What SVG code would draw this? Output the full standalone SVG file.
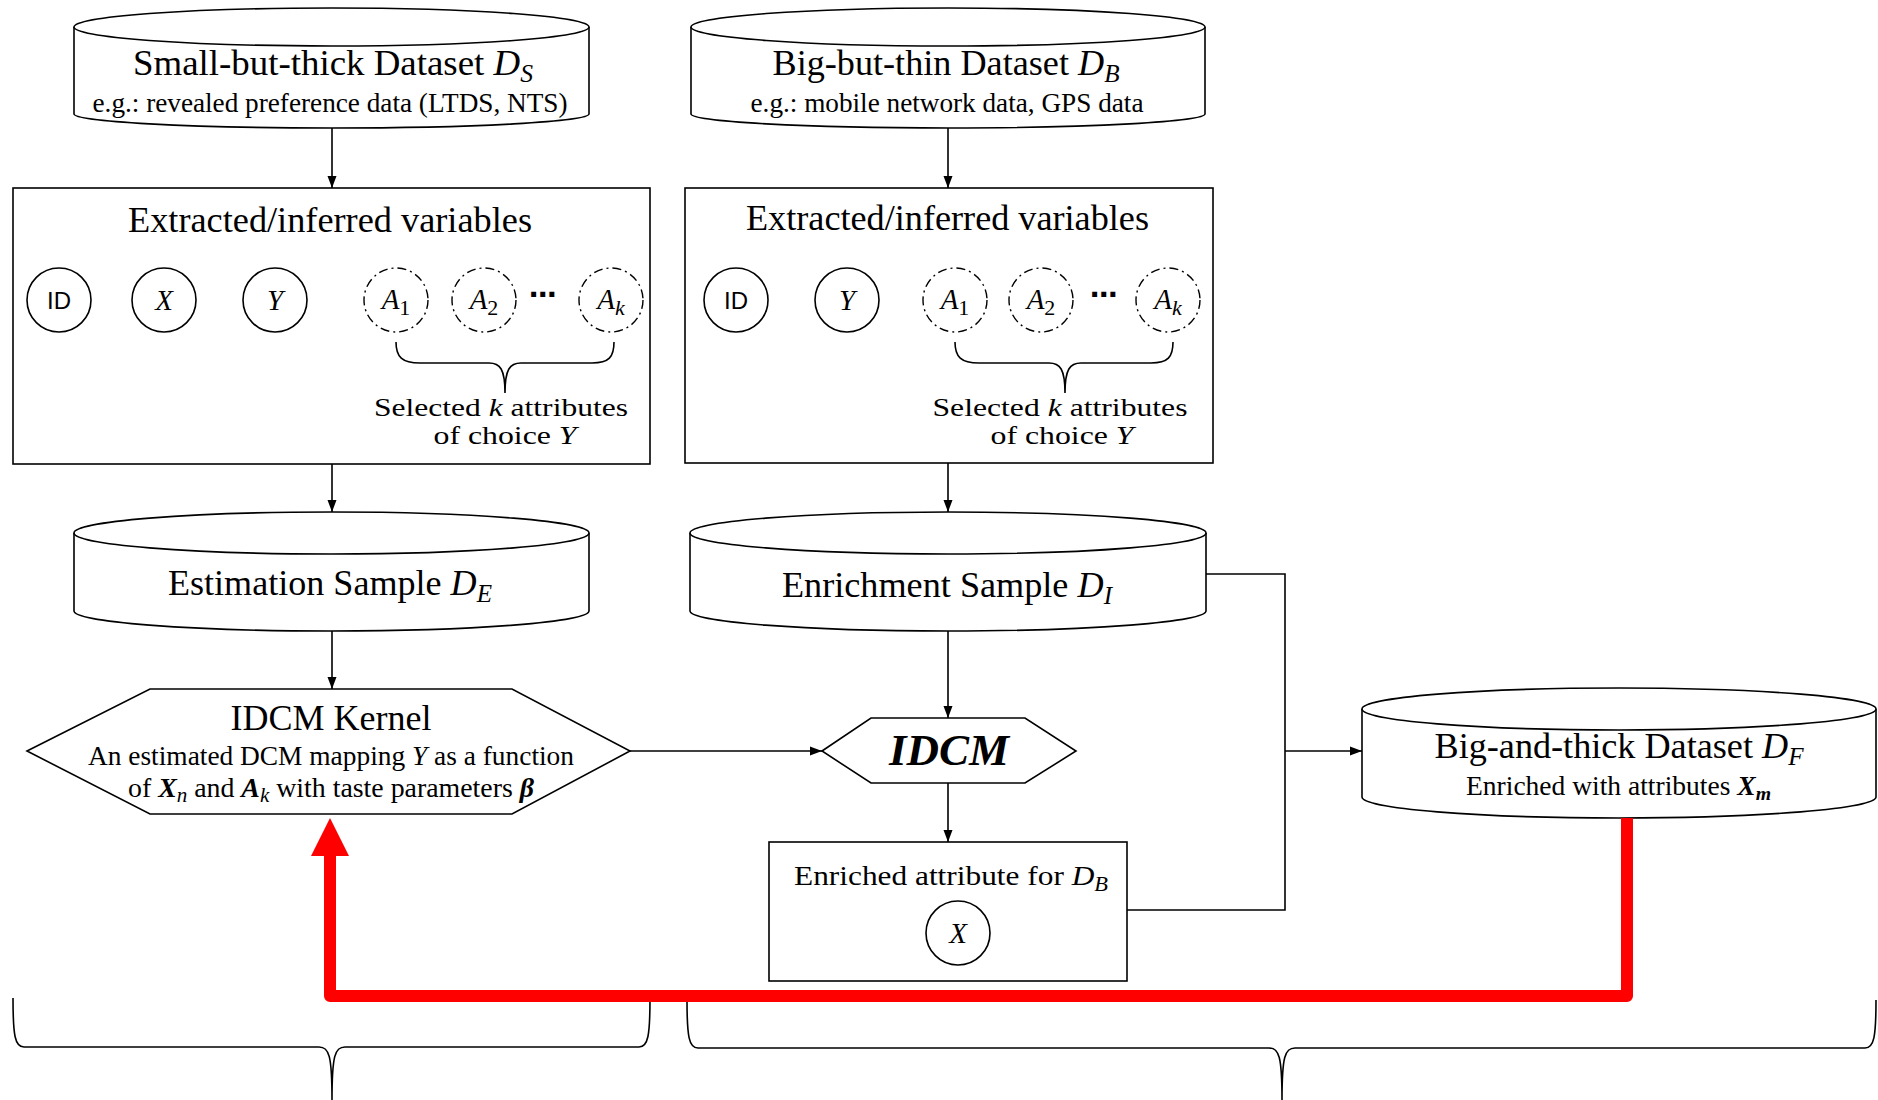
<svg xmlns="http://www.w3.org/2000/svg" width="1878" height="1100" viewBox="0 0 1878 1100">
  <defs>
    <style>
      .shape { fill: #fff; stroke: #000; stroke-width: 1.6; }
      .ln { fill: none; stroke: #000; stroke-width: 1.6; }
      .dash { fill: #fff; stroke: #000; stroke-width: 1.4; stroke-dasharray: 9 4 2 4; }
      .t { font-family: "Liberation Serif", "Times New Roman", serif; fill: #000; text-anchor: middle; }
      .h { font-size: 36px; }
      .m { font-size: 26px; }
      .s { font-size: 26.5px; }
      .sans { font-family: "Liberation Sans", Arial, sans-serif; font-size: 24px; fill: #000; text-anchor: middle; }
      .dots { font-family: "DejaVu Sans", sans-serif; font-size: 28px; font-weight: bold; fill: #000; text-anchor: middle; }
      .it { font-style: italic; }
      .bi { font-style: italic; font-weight: bold; }
      .red { fill: none; stroke: #ff0000; stroke-width: 12; stroke-linejoin: round; }
    </style>
    <marker id="arrow" markerUnits="userSpaceOnUse" markerWidth="12" markerHeight="10" viewBox="0 0 12 9" refX="12" refY="4.5" orient="auto">
      <path d="M0,0 L12,4.5 L0,9 Z" fill="#000"/>
    </marker>
    <marker id="redhead" markerUnits="userSpaceOnUse" markerWidth="38" markerHeight="38" viewBox="0 0 37 37" refX="0" refY="18.5" orient="auto">
      <path d="M0,0 L37,18.5 L0,37 Z" fill="#ff0000"/>
    </marker>
  </defs>

  <!-- Small-but-thick dataset -->
  <g id="dataset-small">
    <path class="shape" d="M74,27 V114 A257.5,14 0 0 0 589,114 V27"/>
    <ellipse class="shape" cx="331.5" cy="27" rx="257.5" ry="19"/>
    <text class="t h" x="333" y="75" textLength="400" lengthAdjust="spacingAndGlyphs">Small-but-thick Dataset <tspan class="it">D</tspan><tspan class="it" font-size="25" dy="7">S</tspan></text>
    <text class="t s" x="330" y="112" textLength="475" lengthAdjust="spacingAndGlyphs">e.g.: revealed preference data (LTDS, NTS)</text>
  </g>

  <!-- Big-but-thin dataset -->
  <g id="dataset-big">
    <path class="shape" d="M691,27 V114 A257,14 0 0 0 1205,114 V27"/>
    <ellipse class="shape" cx="948" cy="27" rx="257" ry="19"/>
    <text class="t h" x="946" y="75" textLength="347" lengthAdjust="spacingAndGlyphs">Big-but-thin Dataset <tspan class="it">D</tspan><tspan class="it" font-size="25" dy="7">B</tspan></text>
    <text class="t s" x="947" y="112" textLength="393" lengthAdjust="spacingAndGlyphs">e.g.: mobile network data, GPS data</text>
  </g>

  <!-- Variables extracted from the small dataset -->
  <g id="vars-small">
    <rect class="shape" x="13" y="188" width="637" height="276"/>
    <text class="t h" x="330" y="232" textLength="404" lengthAdjust="spacingAndGlyphs">Extracted/inferred variables</text>
    <circle class="shape" cx="59" cy="300" r="32"/>
    <text class="sans" x="59" y="309">ID</text>
    <circle class="shape" cx="164" cy="300" r="32"/>
    <text class="t it" font-size="29" x="164" y="310">X</text>
    <circle class="shape" cx="275" cy="300" r="32"/>
    <text class="t it" font-size="29" x="275" y="310">Y</text>
    <circle class="dash" cx="396" cy="300" r="32"/>
    <text class="t" font-size="29" x="396" y="309"><tspan class="it">A</tspan><tspan font-size="22" dy="6">1</tspan></text>
    <circle class="dash" cx="484" cy="300" r="32"/>
    <text class="t" font-size="29" x="484" y="309"><tspan class="it">A</tspan><tspan font-size="22" dy="6">2</tspan></text>
    <text class="dots" x="543" y="304">⋯</text>
    <circle class="dash" cx="611" cy="300" r="32"/>
    <text class="t" font-size="29" x="611" y="309"><tspan class="it">A</tspan><tspan class="it" font-size="22" dy="6">k</tspan></text>
    <path class="ln" d="M396,342 C396,357 402,363 420,363 L489,363 C500,363 505,369 505,393 C505,369 510,363 521,363 L592,363 C609,363 614,357 614,342"/>
    <text class="t m" x="501" y="416" textLength="254" lengthAdjust="spacingAndGlyphs">Selected <tspan class="it">k</tspan> attributes</text>
    <text class="t m" x="505" y="444" textLength="143" lengthAdjust="spacingAndGlyphs">of choice <tspan class="it">Y</tspan></text>
  </g>

  <!-- Variables extracted from the big dataset -->
  <g id="vars-big">
    <rect class="shape" x="685" y="188" width="528" height="275"/>
    <text class="t h" x="947.5" y="230" textLength="403" lengthAdjust="spacingAndGlyphs">Extracted/inferred variables</text>
    <circle class="shape" cx="736" cy="300" r="32"/>
    <text class="sans" x="736" y="309">ID</text>
    <circle class="shape" cx="847" cy="300" r="32"/>
    <text class="t it" font-size="29" x="847" y="310">Y</text>
    <circle class="dash" cx="955" cy="300" r="32"/>
    <text class="t" font-size="29" x="955" y="309"><tspan class="it">A</tspan><tspan font-size="22" dy="6">1</tspan></text>
    <circle class="dash" cx="1041" cy="300" r="32"/>
    <text class="t" font-size="29" x="1041" y="309"><tspan class="it">A</tspan><tspan font-size="22" dy="6">2</tspan></text>
    <text class="dots" x="1104" y="304">⋯</text>
    <circle class="dash" cx="1168" cy="300" r="32"/>
    <text class="t" font-size="29" x="1168" y="309"><tspan class="it">A</tspan><tspan class="it" font-size="22" dy="6">k</tspan></text>
    <path class="ln" d="M955,342 C955,357 961,363 979,363 L1049,363 C1060,363 1065,369 1065,393 C1065,369 1070,363 1081,363 L1151,363 C1168,363 1173,357 1173,342"/>
    <text class="t m" x="1060" y="416" textLength="255" lengthAdjust="spacingAndGlyphs">Selected <tspan class="it">k</tspan> attributes</text>
    <text class="t m" x="1062" y="444" textLength="143" lengthAdjust="spacingAndGlyphs">of choice <tspan class="it">Y</tspan></text>
  </g>

  <!-- Estimation sample -->
  <g id="sample-estimation">
    <path class="shape" d="M74,533 V611 A257.5,20 0 0 0 589,611 V533"/>
    <ellipse class="shape" cx="331.5" cy="533" rx="257.5" ry="21"/>
    <text class="t h" x="330" y="595" textLength="324" lengthAdjust="spacingAndGlyphs">Estimation Sample <tspan class="it">D</tspan><tspan class="it" font-size="25" dy="7">E</tspan></text>
  </g>

  <!-- Enrichment sample -->
  <g id="sample-enrichment">
    <path class="shape" d="M690,533 V611 A258,20 0 0 0 1206,611 V533"/>
    <ellipse class="shape" cx="948" cy="533" rx="258" ry="21"/>
    <text class="t h" x="947" y="597" textLength="330" lengthAdjust="spacingAndGlyphs">Enrichment Sample <tspan class="it">D</tspan><tspan class="it" font-size="25" dy="7">I</tspan></text>
  </g>

  <!-- IDCM kernel -->
  <g id="idcm-kernel">
    <polygon class="shape" points="27,751 150,689 512,689 630,751 512,814 150,814"/>
    <text class="t h" x="331" y="730" textLength="201" lengthAdjust="spacingAndGlyphs">IDCM Kernel</text>
    <text class="t s" x="331" y="765" textLength="486" lengthAdjust="spacingAndGlyphs">An estimated DCM mapping <tspan class="it">Y</tspan> as a function</text>
    <text class="t s" x="331" y="797" textLength="406" lengthAdjust="spacingAndGlyphs">of <tspan class="bi">X</tspan><tspan class="it" font-size="20" dy="5">n</tspan><tspan dy="-5"> and </tspan><tspan class="bi">A</tspan><tspan class="it" font-size="20" dy="5">k</tspan><tspan dy="-5"> with taste parameters </tspan><tspan class="bi">β</tspan></text>
  </g>

  <!-- IDCM -->
  <g id="idcm">
    <polygon class="shape" points="822,751 871,718 1025,718 1076,751 1025,783 871,783"/>
    <text class="t bi" font-size="45" x="949" y="765">IDCM</text>
  </g>

  <!-- Enriched attribute -->
  <g id="enriched-attribute">
    <rect class="shape" x="769" y="842" width="358" height="139"/>
    <text class="t" font-size="28" x="951" y="885" textLength="314" lengthAdjust="spacingAndGlyphs">Enriched attribute for <tspan class="it">D</tspan><tspan class="it" font-size="20" dy="6">B</tspan></text>
    <circle class="shape" cx="958" cy="933" r="32"/>
    <text class="t it" font-size="29" x="958" y="943">X</text>
  </g>

  <!-- Big-and-thick dataset -->
  <g id="dataset-final">
    <path class="shape" d="M1362,709 V797 A257,21 0 0 0 1876,797 V709"/>
    <ellipse class="shape" cx="1619" cy="709" rx="257" ry="21"/>
    <text class="t h" x="1619" y="758" textLength="369" lengthAdjust="spacingAndGlyphs">Big-and-thick Dataset <tspan class="it">D</tspan><tspan class="it" font-size="25" dy="7">F</tspan></text>
    <text class="t s" x="1618.5" y="795" textLength="305" lengthAdjust="spacingAndGlyphs">Enriched with attributes <tspan class="bi">X</tspan><tspan class="bi" font-size="19" dy="5">m</tspan></text>
  </g>

  <!-- Group braces along the bottom -->
  <g id="braces">
    <path class="ln" d="M13,998 C13,1036 15,1047 24,1047 L319,1047 C329,1047 332,1055 332,1100 C332,1055 335,1047 345,1047 L639,1047 C648,1047 650,1036 650,998"/>
    <path class="ln" d="M687,1000 C687,1037 689,1048 698,1048 L1269,1048 C1279,1048 1282,1056 1282,1100 C1282,1056 1285,1048 1295,1048 L1865,1048 C1874,1048 1876,1037 1876,1000"/>
  </g>

  <!-- Connectors -->
  <g id="connectors">
    <path class="ln" d="M332,128 V188" marker-end="url(#arrow)"/>
    <path class="ln" d="M948,128 V188" marker-end="url(#arrow)"/>
    <path class="ln" d="M332,464 V512" marker-end="url(#arrow)"/>
    <path class="ln" d="M948,463 V512" marker-end="url(#arrow)"/>
    <path class="ln" d="M332,631 V689" marker-end="url(#arrow)"/>
    <path class="ln" d="M948,631 V718" marker-end="url(#arrow)"/>
    <path class="ln" d="M630,751 H822" marker-end="url(#arrow)"/>
    <path class="ln" d="M948,783 V842" marker-end="url(#arrow)"/>
    <path class="ln" d="M1206,574 H1285 V910 H1127"/>
    <path class="ln" d="M1285,751 H1362" marker-end="url(#arrow)"/>
    <path class="red" d="M1627,818 V996 H330 V856" marker-end="url(#redhead)"/>
  </g>
</svg>
